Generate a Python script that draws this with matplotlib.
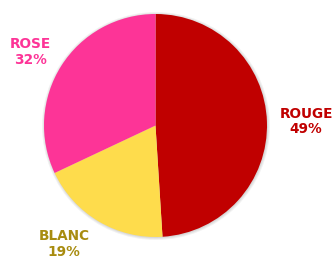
import matplotlib
matplotlib.use("Agg")
import matplotlib.pyplot as plt
from matplotlib.patches import Circle

categories = ["ROUGE", "BLANC", "ROSE"]
values = [49, 19, 32]
colors = ["#C00000", "#FEDC4C", "#FD3497"]
label_colors = ["#C00000", "#A88C10", "#FD3497"]
label_pos = [(306, 256 - 121.5), (64, 256 - 244), (30, 256 - 52)]

W, H = 333, 256
fig = plt.figure(figsize=(W / 100, H / 100), dpi=100)
ax = fig.add_axes([0, 0, 1, 1])
ax.set_xlim(0, W)
ax.set_ylim(0, H)
ax.axis("off")

cx, cy, r = 155.5, 256 - 125.5, 111.5
# soft shadow
for i, a in enumerate([0.05, 0.05, 0.06]):
    ax.add_patch(Circle((cx + 0.5, cy - 0.5), r + 2.5 - i, color="#000000", alpha=a, lw=0, zorder=0))

wedges, texts = ax.pie(values, colors=colors, startangle=90, counterclock=False,
                       center=(cx, cy), radius=r, frame=True,
                       wedgeprops=dict(linewidth=0))
ax.set_xlim(0, W)
ax.set_ylim(0, H)
ax.axis("off")

for cat, v, col, pos in zip(categories, values, label_colors, label_pos):
    ax.text(pos[0], pos[1], f"{cat}\n{v}%", ha="center", va="center",
            color=col, fontsize=9.8, fontweight="bold", family="DejaVu Sans",
            linespacing=1.15)

fig.savefig("out.png", dpi=100)
